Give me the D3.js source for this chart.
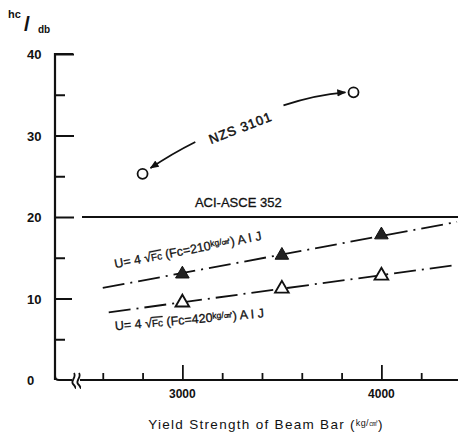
<!DOCTYPE html>
<html>
<head>
<meta charset="utf-8">
<script src="https://cdn.jsdelivr.net/npm/d3@7"></script>
<style>
body{margin:0;background:#fff;}
text{font-family:"Liberation Sans",Arial,sans-serif;fill:#111;}
</style>
</head>
<body>
<svg id="vis" width="458" height="437"></svg>
<script>
// axis ticks
var yMajor = [10, 20, 30, 40];
var yMinor = [5, 15, 25, 35];
var yLabels = [0, 10, 20, 30, 40];
var xTicks = [2600, 2800, 3000, 3200, 3400, 3600, 3800, 4000, 4200];
var xLabels = [3000, 4000];

// NZS 3101 points
var nzsX = [2800, 3860];
var nzsY = [25.3, 35.3];

// ACI-ASCE 352 constant
var aciValue = 20;

// AIJ points (Fc = 210 filled, Fc = 420 open)
var fy = [3000, 3500, 4000];
var aij210 = [13.0, 15.3, 17.8];
var aij420 = [9.5, 11.2, 12.8];

// dash-dot trend lines
var fit210X = [2600, 4380], fit210Y = [11.3, 19.4];
var fit420X = [2630, 4370], fit420Y = [8.3, 14.1];

var svg = d3.select('#vis');

var x = d3.scaleLinear().domain([2360, 4400]).range([55, 461]);
var y = d3.scaleLinear().domain([0, 40]).range([380, 54]);

var ink = '#111';

// y axis line + ticks (ticks point inward)
var yAxis = svg.append('g')
    .attr('transform', 'translate(' + x(2360) + ',0)')
    .call(d3.axisRight(y).tickValues(yMajor.concat(yMinor)).tickSize(19).tickFormat(''));
yAxis.select('.domain').remove();
yAxis.selectAll('.tick line')
    .attr('stroke', ink).attr('stroke-width', 2)
    .attr('x2', function(d){ return yMinor.indexOf(d) >= 0 ? 10 : (d == 10 ? 17 : 19); });

svg.append('line')
    .attr('x1', x(2360)).attr('x2', x(2360))
    .attr('y1', y(40) - 1).attr('y2', y(0))
    .attr('stroke', ink).attr('stroke-width', 2.2);
svg.append('line')
    .attr('x1', x(2360)).attr('x2', x(2360) + 18)
    .attr('y1', y(40)).attr('y2', y(40))
    .attr('stroke', ink).attr('stroke-width', 2);

svg.selectAll('.ylab')
    .data(yLabels)
    .enter().append('text')
    .attr('x', 27)
    .attr('y', function(d){ return y(d) + 5; })
    .style('font-size', '13px').style('font-weight', 'bold')
    .text(function(d){ return d; });

// x axis with break
var xAxis = svg.append('g')
    .attr('transform', 'translate(0,' + y(0) + ')')
    .call(d3.axisTop(x).tickValues(xTicks).tickSize(7).tickFormat(''));
xAxis.select('.domain').remove();
xAxis.selectAll('.tick line')
    .attr('stroke', ink).attr('stroke-width', 1.8)
    .attr('y2', function(d){ return xLabels.indexOf(d) >= 0 ? -15 : -7; });

svg.append('path')
    .attr('d', 'M' + x(2360) + ',' + (y(0) - 4) + ' Q' + x(2360) + ',' + y(0) + ' ' + (x(2360) + 4) + ',' + y(0) + ' L' + 72 + ',' + y(0))
    .attr('fill', 'none').attr('stroke', ink).attr('stroke-width', 2);
svg.append('line')
    .attr('x1', 80).attr('x2', 458)
    .attr('y1', y(0)).attr('y2', y(0))
    .attr('stroke', ink).attr('stroke-width', 2);
[73, 78].forEach(function(bx){
    svg.append('path')
        .attr('d', 'M' + (bx + 1) + ',373 C' + (bx + 4) + ',377 ' + (bx - 3) + ',381 ' + bx + ',384 S' + (bx + 2) + ',388 ' + (bx + 3) + ',388')
        .attr('fill', 'none').attr('stroke', ink).attr('stroke-width', 1.8);
});

svg.selectAll('.xlab')
    .data(xLabels)
    .enter().append('text')
    .attr('x', function(d){ return x(d); })
    .attr('y', 398)
    .attr('text-anchor', 'middle')
    .style('font-size', '12px').style('font-weight', 'bold')
    .text(function(d){ return d; });

// axis titles
var xt = svg.append('text')
    .attr('x', 266).attr('y', 429)
    .attr('text-anchor', 'middle')
    .style('font-size', '13.5px').style('letter-spacing', '1.3px');
xt.append('tspan').text('Yield Strength of Beam Bar (');
xt.append('tspan').attr('dy', -3).style('font-size', '9px').style('letter-spacing', '0.3px').text('kg/㎠');
xt.append('tspan').attr('dy', 3).text(')');

svg.append('text').attr('x', 8).attr('y', 18).style('font-size', '11px').style('font-weight', 'bold').text('hc');
svg.append('text').attr('x', 24).attr('y', 31).style('font-size', '21px').style('font-weight', 'bold').text('/');
svg.append('text').attr('x', 38).attr('y', 33).style('font-size', '10px').style('font-weight', 'bold').text('db');

// ACI-ASCE 352 line
svg.append('line')
    .attr('x1', 82).attr('x2', 458)
    .attr('y1', y(aciValue)).attr('y2', y(aciValue))
    .attr('stroke', ink).attr('stroke-width', 2);
svg.append('text')
    .attr('x', x(3281)).attr('y', y(21.8) + 5)
    .attr('text-anchor', 'middle')
    .style('font-size', '13px').style('stroke', ink).style('stroke-width', 0.3)
    .text('ACI-ASCE 352');

// dash-dot trend lines
var fitLine = d3.line().x(function(d){ return x(d[0]); }).y(function(d){ return y(d[1]); });
[[fit210X, fit210Y], [fit420X, fit420Y]].forEach(function(f){
    svg.append('path')
        .attr('d', fitLine(d3.zip(f[0], f[1])))
        .attr('fill', 'none').attr('stroke', ink).attr('stroke-width', 1.8)
        .attr('stroke-dasharray', '22,6,2,6');
});

var tri = d3.symbol().type(d3.symbolTriangle).size(80);
svg.selectAll('.f210')
    .data(d3.zip(fy, aij210))
    .enter().append('path')
    .attr('d', tri)
    .attr('transform', function(d){ return 'translate(' + x(d[0]) + ',' + y(d[1]) + ')'; })
    .attr('fill', '#222').attr('stroke', ink).attr('stroke-width', 1);
svg.selectAll('.f420')
    .data(d3.zip(fy, aij420))
    .enter().append('path')
    .attr('d', tri)
    .attr('transform', function(d){ return 'translate(' + x(d[0]) + ',' + y(d[1]) + ')'; })
    .attr('fill', '#fff').attr('stroke', ink).attr('stroke-width', 1.9);

// AIJ labels
function aijLabel(px, py, angle, fc) {
    var t = svg.append('text')
        .attr('transform', 'translate(' + x(px) + ',' + y(py) + ') rotate(' + angle + ')')
        .style('font-size', '12.5px').style('stroke', ink).style('stroke-width', 0.3);
    t.append('tspan').text('U= 4 √');
    t.append('tspan').style('text-decoration', 'overline').style('font-size', '10px').text('Fc');
    t.append('tspan').text(' (Fc=' + fc);
    t.append('tspan').attr('dy', -3).style('font-size', '8.5px').text('kg/㎠');
    t.append('tspan').attr('dy', 3).text(') A I J');
}
aijLabel(2663, 13.7, -11, 210);
aijLabel(2663, 6.1, -5, 420);

// NZS 3101 points with arrows
svg.append('defs').append('marker')
    .attr('id', 'arrow')
    .attr('viewBox', '0 0 10 10')
    .attr('refX', 9).attr('refY', 5)
    .attr('markerWidth', 5).attr('markerHeight', 5)
    .attr('orient', 'auto')
    .append('path').attr('d', 'M0,1 L10,5 L0,9 Z').attr('fill', ink);

var arrows = [
    [[3065, 29.2], [2950, 27.8], [2840, 26.0]],
    [[3508, 33.7], [3668, 35.0], [3819, 35.3]]
];
arrows.forEach(function(a){
    svg.append('path')
        .attr('d', 'M' + x(a[0][0]) + ',' + y(a[0][1]) + ' Q' + x(a[1][0]) + ',' + y(a[1][1]) + ' ' + x(a[2][0]) + ',' + y(a[2][1]))
        .attr('fill', 'none').attr('stroke', ink).attr('stroke-width', 1.8)
        .attr('marker-end', 'url(#arrow)');
});

svg.selectAll('.nzs')
    .data(d3.zip(nzsX, nzsY))
    .enter().append('circle')
    .attr('cx', function(d){ return x(d[0]); })
    .attr('cy', function(d){ return y(d[1]); })
    .attr('r', 5)
    .attr('fill', '#fff').attr('stroke', ink).attr('stroke-width', 1.8);

svg.append('text')
    .attr('transform', 'translate(' + x(3291) + ',' + y(31.0) + ') rotate(-21)')
    .attr('text-anchor', 'middle').attr('dy', 5)
    .style('font-size', '13px').style('letter-spacing', '1px')
    .style('stroke', ink).style('stroke-width', 0.5)
    .text('NZS 3101');
</script>
</body>
</html>
